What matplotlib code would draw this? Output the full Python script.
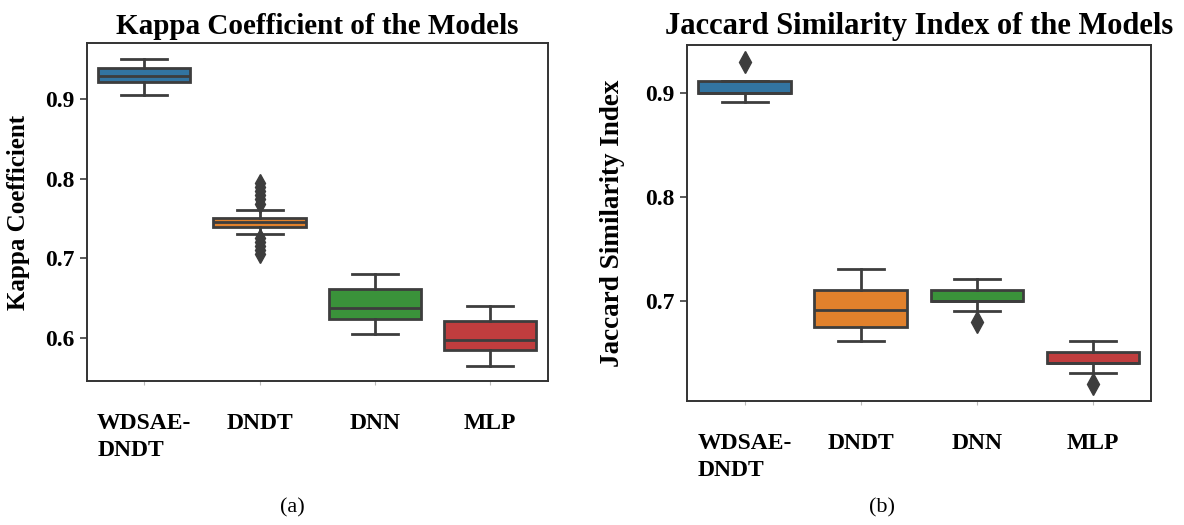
import matplotlib
matplotlib.use("Agg")
import matplotlib.pyplot as plt

models = ["WDSAE-\nDNDT", "DNDT", "DNN", "MLP"]
colors = ["#3274a1", "#e1812c", "#3a923a", "#c03d3e"]

# Kappa coefficient
kappa_whislo = [0.905, 0.730, 0.605, 0.565]
kappa_q1 = [0.921, 0.739, 0.624, 0.584]
kappa_med = [0.929, 0.745, 0.637, 0.597]
kappa_q3 = [0.939, 0.750, 0.661, 0.621]
kappa_whishi = [0.950, 0.761, 0.680, 0.640]
kappa_fliers = [[], [0.705, 0.710, 0.715, 0.720, 0.725,
                     0.768, 0.774, 0.779, 0.784, 0.789, 0.794], [], []]

# Jaccard similarity index
jac_whislo = [0.891, 0.661, 0.690, 0.631]
jac_q1 = [0.900, 0.675, 0.700, 0.640]
jac_med = [0.900, 0.691, 0.700, 0.640]
jac_q3 = [0.911, 0.710, 0.710, 0.651]
jac_whishi = [0.911, 0.731, 0.721, 0.661]
jac_fliers = [[0.930], [], [0.680], [0.620]]

plt.rcParams["font.family"] = ["Liberation Serif", "DejaVu Serif"]
plt.rcParams["font.weight"] = "bold"

fig = plt.figure(figsize=(11.84, 5.25), dpi=100)
ax1 = fig.add_axes([0.0732, 0.2749, 0.3894, 0.6427])
ax2 = fig.add_axes([0.5800, 0.2368, 0.3922, 0.6775])

line_c = "#3d3d3d"


def draw(ax, lo, q1, med, q3, hi, fliers, ms):
    stats = []
    for i in range(len(models)):
        stats.append(dict(whislo=lo[i], q1=q1[i], med=med[i], q3=q3[i],
                          whishi=hi[i], fliers=fliers[i]))
    art = ax.bxp(stats, positions=range(len(models)), widths=0.8,
                 patch_artist=True, capwidths=0.4,
                 boxprops=dict(edgecolor=line_c, linewidth=2.0),
                 medianprops=dict(color=line_c, linewidth=2.0),
                 whiskerprops=dict(color=line_c, linewidth=2.0),
                 capprops=dict(color=line_c, linewidth=2.0),
                 flierprops=dict(marker="d", markerfacecolor=line_c,
                                 markeredgecolor=line_c, markersize=ms))
    for patch, c in zip(art["boxes"], colors):
        patch.set_facecolor(c)
    ax.set_xlim(-0.5, 3.5)
    ax.set_xticks(range(len(models)))
    ax.set_xticklabels(models, fontsize=17, fontweight="bold",
                       linespacing=1.4, multialignment="left")
    ax.tick_params(axis="x", pad=20, length=3, color="#bbbbbb")
    ax.tick_params(axis="y", labelsize=17, length=5, width=1.2,
                   color=line_c, pad=4)
    for lab in ax.get_yticklabels():
        lab.set_fontweight("bold")
    for s in ax.spines.values():
        s.set_color("#333333")
        s.set_linewidth(1.4)


draw(ax1, kappa_whislo, kappa_q1, kappa_med, kappa_q3, kappa_whishi,
     kappa_fliers, 9)
ax1.set_ylim(0.546, 0.970)
ax1.set_yticks([0.6, 0.7, 0.8, 0.9])
ax1.set_yticklabels(["0.6", "0.7", "0.8", "0.9"], fontweight="bold")
ax1.set_title("Kappa Coefficient of the Models", fontsize=21,
              fontweight="bold", pad=7)
ax1.set_ylabel("Kappa Coefficient", fontsize=18, fontweight="bold")
ax1.yaxis.set_label_coords(-0.123, 0.5)

draw(ax2, jac_whislo, jac_q1, jac_med, jac_q3, jac_whishi, jac_fliers, 11)
ax2.set_ylim(0.604, 0.946)
ax2.set_yticks([0.7, 0.8, 0.9])
ax2.set_yticklabels(["0.7", "0.8", "0.9"], fontweight="bold")
ax2.set_title("Jaccard Similarity Index of the Models", fontsize=22,
              fontweight="bold", pad=8)
ax2.set_ylabel("Jaccard Similarity Index", fontsize=19.5, fontweight="bold")
ax2.yaxis.set_label_coords(-0.133, 0.5)

fig.text(292 / 1184, 1 - 508 / 525, "(a)", fontsize=16, fontweight="normal",
         ha="center", va="center")
fig.text(882 / 1184, 1 - 508 / 525, "(b)", fontsize=16, fontweight="normal",
         ha="center", va="center")

fig.savefig("out.png", dpi=100)
